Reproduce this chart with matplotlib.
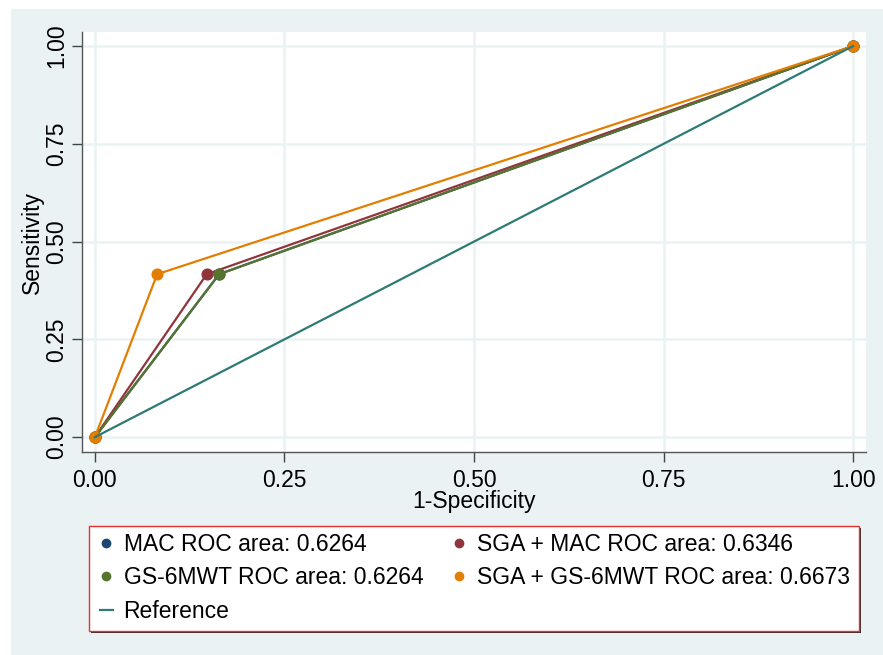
import matplotlib.pyplot as plt
from matplotlib.lines import Line2D
from matplotlib.patches import Rectangle

plt.rcParams['font.family'] = ['Liberation Sans', 'DejaVu Sans']

# ROC points (1-specificity, sensitivity) for each model
mac_x = [0.0, 0.1639, 1.0]
mac_y = [0.0, 0.4167, 1.0]
sga_mac_x = [0.0, 0.1475, 1.0]
sga_mac_y = [0.0, 0.4167, 1.0]
gs_x = [0.0, 0.1639, 1.0]
gs_y = [0.0, 0.4167, 1.0]
sga_gs_x = [0.0, 0.0821, 1.0]
sga_gs_y = [0.0, 0.4167, 1.0]
ref_x = [0.0, 1.0]
ref_y = [0.0, 1.0]

labels = ["MAC ROC area: 0.6264", "SGA + MAC ROC area: 0.6346",
          "GS-6MWT ROC area: 0.6264", "SGA + GS-6MWT ROC area: 0.6673",
          "Reference"]
ticks = [0, 0.25, 0.5, 0.75, 1.0]
tick_labels = ["0.00", "0.25", "0.50", "0.75", "1.00"]

navy = "#1a476f"
maroon = "#90353b"
green = "#55752f"
orange = "#e37e00"
teal = "#2d7b74"
bg = "#eaf2f3"
W, H = 883, 655

fig = plt.figure(figsize=(8.83, 6.55), dpi=100, facecolor="white")
fig.patches.append(Rectangle((11 / W, 0), 1, 1 - 9 / H, transform=fig.transFigure,
                             facecolor=bg, edgecolor="none", zorder=-10))
ax = fig.add_axes([82 / W, 1 - 452 / H, (866 - 82) / W, (452 - 32) / H])
ax.set_facecolor("white")

lw = 1.6
ms = 7.7
ax.plot(mac_x, mac_y, color=navy, lw=lw, marker="o", ms=ms, zorder=3)
ax.plot(sga_mac_x, sga_mac_y, color=maroon, lw=lw, marker="o", ms=ms, zorder=3)
ax.plot(gs_x, gs_y, color=green, lw=lw, marker="o", ms=ms, zorder=3)
ax.plot(sga_gs_x, sga_gs_y, color=orange, lw=lw, marker="o", ms=ms, zorder=3)
ax.plot(ref_x, ref_y, color=teal, lw=lw, zorder=4)

ax.set_xlim(-0.017, 1.017)
ax.set_ylim(-0.038, 1.036)
ax.set_xticks(ticks)
ax.set_xticklabels(tick_labels)
ax.set_yticks(ticks)
ax.set_yticklabels(tick_labels, rotation=90, va="center")
ax.grid(True, color=bg, lw=1.8, zorder=0)
ax.set_axisbelow(True)
for s in ["top", "right"]:
    ax.spines[s].set_visible(False)
for s in ["left", "bottom"]:
    ax.spines[s].set_color("#555555")
    ax.spines[s].set_linewidth(1.0)
ax.tick_params(direction="out", length=7, width=1, color="#444444",
               labelsize=16.5, pad=5)
ax.tick_params(axis="y", pad=3)
ax.set_xlabel("1-Specificity", fontsize=16.5, labelpad=-1)
ax.set_ylabel("Sensitivity", fontsize=16.5, labelpad=1)

# legend box drawn by hand, legend itself frameless inside it
fig.patches.append(Rectangle((91 / W, 1 - 633 / H), (859 - 89) / W, (631 - 526) / H,
                             transform=fig.transFigure, facecolor="#333333",
                             edgecolor="none", zorder=1))
fig.patches.append(Rectangle((89 / W, 1 - 631 / H), (859 - 89) / W, (631 - 526) / H,
                             transform=fig.transFigure, facecolor="white",
                             edgecolor="#e8302f", lw=1.0, zorder=2))

handles = [
    Line2D([], [], color=navy, ls="none", marker="o", ms=6),
    Line2D([], [], color=green, ls="none", marker="o", ms=6),
    Line2D([], [], color=teal, lw=1.6),
    Line2D([], [], color=maroon, ls="none", marker="o", ms=6),
    Line2D([], [], color=orange, ls="none", marker="o", ms=6),
]
leg_labels = [labels[0], labels[2], labels[4], labels[1], labels[3]]
leg = fig.legend(handles, leg_labels, ncol=2, loc="upper left",
                 bbox_to_anchor=(100 / W, 1 - 533 / H), frameon=False,
                 fontsize=16.5, handlelength=0.55, handletextpad=0.48,
                 labelspacing=0.45, borderpad=0, borderaxespad=0,
                 columnspacing=1.3)
leg.set_zorder(5)

fig.savefig("out.png", dpi=100, facecolor=fig.get_facecolor())
